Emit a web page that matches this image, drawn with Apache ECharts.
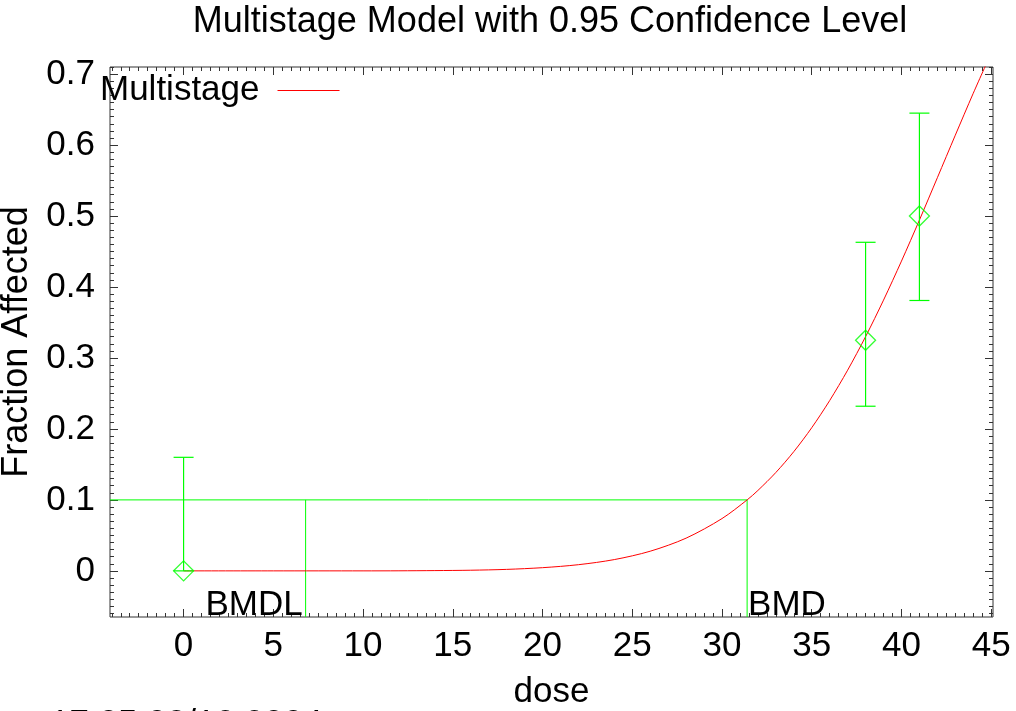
<!doctype html>
<html>
<head>
<meta charset="utf-8">
<script src="https://cdn.jsdelivr.net/npm/echarts@6/dist/echarts.min.js"></script>
<title>Multistage Model</title>
<style>
  html, body { margin: 0; padding: 0; background: #fff; }
  #chart { width: 1016px; height: 711px; }
</style>
</head>
<body>
<div id="chart"></div>
<script>
// observed groups
var doseObs = [0, 38, 41];
var fracObs = [0, 0.325, 0.5];
var ciLow = [0, 0.232, 0.381];
var ciHigh = [0.16, 0.463, 0.645];

// fitted multistage curve
var curveDose = [0, 5, 10, 12, 14, 16, 18, 20, 22, 24, 26, 28, 30, 31.4, 32, 33, 34, 35, 36, 37, 38, 39, 40, 41, 42, 43, 44, 45];
var curveFrac = [0, 0, 0, 0.0001, 0.0004, 0.0009, 0.0021, 0.0045, 0.0087, 0.0159, 0.0277, 0.0461, 0.0737, 0.1, 0.1133, 0.1386, 0.168, 0.2017, 0.240, 0.2828, 0.330, 0.3815, 0.4365, 0.4943, 0.554, 0.6139, 0.673, 0.7297];

var bmr = 0.1;
var bmd = 31.4;
var bmdl = 6.8;

var xTicks = [0, 5, 10, 15, 20, 25, 30, 35, 40, 45];
var yTicks = [0, 0.1, 0.2, 0.3, 0.4, 0.5, 0.6, 0.7];

var XMIN = -4.1, XMAX = 45.1;
var YMIN = -0.065, YMAX = 0.71;

var GREEN = '#00ff00';
var RED = '#ff0000';
var FRAME = '#333333';
var FONT = '"Liberation Sans", Arial, sans-serif';

// minor ticks every 0.5 on x and 0.01 on y
var xMinor = [];
for (var i = -8; i <= 90; i++) xMinor.push(i * 0.5);
var yMinor = [];
for (var j = -6; j <= 71; j++) yMinor.push(j / 100);

function pairs(xs, ys) {
  return xs.map(function (x, k) { return [x, ys[k]]; });
}

function tickAxis(kind, pos, ticks, len, labels) {
  var ax = {
    type: 'value',
    position: pos,
    min: kind === 'x' ? XMIN : YMIN,
    max: kind === 'x' ? XMAX : YMAX,
    axisLine: { show: false, onZero: false },
    splitLine: { show: false },
    axisTick: {
      show: true, inside: true, length: len, customValues: ticks,
      lineStyle: { color: FRAME, width: 1 }
    },
    axisLabel: { show: false }
  };
  if (labels) {
    ax.axisLabel = {
      show: true, customValues: ticks, color: '#000',
      fontFamily: FONT, fontSize: 35, margin: kind === 'x' ? 12 : 15
    };
  }
  return ax;
}

var xMain = tickAxis('x', 'bottom', xTicks, 8, true);
xMain.name = 'dose';
xMain.nameLocation = 'middle';
xMain.nameGap = 58;
xMain.nameTextStyle = { fontFamily: FONT, fontSize: 35, color: '#000' };

var yMain = tickAxis('y', 'left', yTicks, 8, true);
yMain.name = 'Fraction Affected';
yMain.nameLocation = 'middle';
yMain.nameGap = 64;
yMain.nameTextStyle = { fontFamily: FONT, fontSize: 36, color: '#000' };

var chart = echarts.init(document.getElementById('chart'));

var option = {
  animation: false,
  backgroundColor: '#fff',
  title: {
    text: 'Multistage Model with 0.95 Confidence Level',
    left: 550, textAlign: 'center', top: 4, padding: 0,
    textStyle: { fontFamily: FONT, fontSize: 36, fontWeight: 'normal', color: '#000' }
  },
  legend: {
    data: ['Multistage'],
    left: 100, top: 73, padding: 0,
    align: 'right',
    icon: 'rect',
    itemWidth: 62, itemHeight: 1,
    textStyle: { fontFamily: FONT, fontSize: 35, color: '#000', padding: [0, 13, 0, 0] }
  },
  grid: {
    left: 110, right: 23, top: 67, bottom: 94,
    show: true, borderColor: FRAME, borderWidth: 1,
    containLabel: false, outerBoundsMode: 'none'
  },
  xAxis: [
    xMain,
    tickAxis('x', 'bottom', xMinor, 4, false),
    tickAxis('x', 'top', xTicks, 8, false),
    tickAxis('x', 'top', xMinor, 4, false)
  ],
  yAxis: [
    yMain,
    tickAxis('y', 'left', yMinor, 4, false),
    tickAxis('y', 'right', yTicks, 8, false),
    tickAxis('y', 'right', yMinor, 4, false)
  ],
  series: [
    {
      name: 'Multistage',
      type: 'line',
      data: pairs(curveDose, curveFrac),
      smooth: 0.3,
      symbol: 'none',
      lineStyle: { color: RED, width: 1 },
      itemStyle: { color: RED },
      z: 3
    },
    {
      name: 'bmd',
      type: 'line',
      data: [
        [XMIN, bmr],
        [bmd, bmr],
        { value: [bmd, YMIN], label: {
          show: true, formatter: 'BMD', position: 'right', distance: 1,
          verticalAlign: 'bottom', offset: [0, 6],
          fontFamily: FONT, fontSize: 35, color: '#000'
        } }
      ],
      symbol: 'circle', symbolSize: 0, showSymbol: true,
      lineStyle: { color: GREEN, width: 1 },
      itemStyle: { color: GREEN },
      z: 2
    },
    {
      name: 'bmdl',
      type: 'line',
      data: [
        [bmdl, bmr],
        { value: [bmdl, YMIN], label: {
          show: true, formatter: 'BMDL', position: 'left', distance: 3,
          verticalAlign: 'bottom', offset: [0, 6],
          fontFamily: FONT, fontSize: 35, color: '#000'
        } }
      ],
      symbol: 'circle', symbolSize: 0, showSymbol: true,
      lineStyle: { color: GREEN, width: 1 },
      itemStyle: { color: GREEN },
      z: 2
    },
    {
      name: 'ci',
      type: 'custom',
      data: doseObs.map(function (d, k) { return [d, ciLow[k], ciHigh[k]]; }),
      renderItem: function (params, api) {
        var top = api.coord([api.value(0), api.value(2)]);
        var bot = api.coord([api.value(0), api.value(1)]);
        var w = 10;
        var st = { stroke: GREEN, lineWidth: 1.2 };
        return {
          type: 'group',
          children: [
            { type: 'line', shape: { x1: top[0], y1: top[1], x2: bot[0], y2: bot[1] }, style: st },
            { type: 'line', shape: { x1: top[0] - w, y1: top[1], x2: top[0] + w, y2: top[1] }, style: st },
            { type: 'line', shape: { x1: bot[0] - w, y1: bot[1], x2: bot[0] + w, y2: bot[1] }, style: st }
          ]
        };
      },
      z: 4
    },
    {
      name: 'observed',
      type: 'scatter',
      data: pairs(doseObs, fracObs),
      symbol: 'diamond',
      symbolSize: 20,
      itemStyle: { color: 'rgba(0,0,0,0)', borderColor: GREEN, borderWidth: 1.3 },
      z: 5
    }
  ],
  graphic: [
    {
      type: 'text', left: 50, top: 707,
      style: { text: '17:05 03/12 2004', fontFamily: FONT, fontSize: 35, fill: '#000' }
    }
  ]
};

chart.setOption(option);
</script>
</body>
</html>
